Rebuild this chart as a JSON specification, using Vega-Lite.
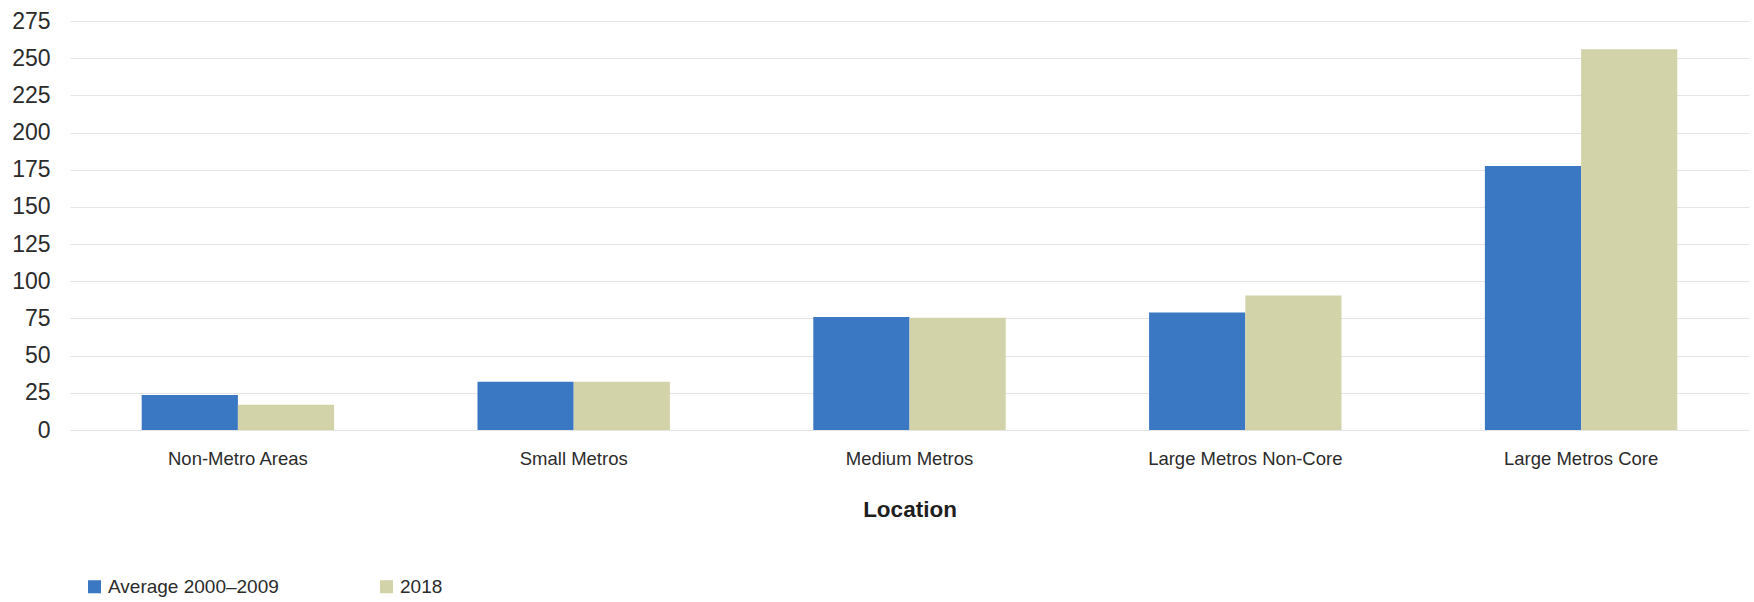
{
  "$schema": "https://vega.github.io/schema/vega-lite/v6.json",
  "autosize": {"type": "none"},
  "padding": {"left": 70, "top": 21, "right": 5, "bottom": 172},
  "width": 1679,
  "height": 409,
  "background": "white",
  "data": {
    "values": [
      {"location": "Non-Metro Areas", "period": "Average 2000–2009", "value": 23.5},
      {"location": "Non-Metro Areas", "period": "2018", "value": 17},
      {"location": "Small Metros", "period": "Average 2000–2009", "value": 32.5},
      {"location": "Small Metros", "period": "2018", "value": 32.5},
      {"location": "Medium Metros", "period": "Average 2000–2009", "value": 76},
      {"location": "Medium Metros", "period": "2018", "value": 75.5},
      {"location": "Large Metros Non-Core", "period": "Average 2000–2009", "value": 79},
      {"location": "Large Metros Non-Core", "period": "2018", "value": 90.5},
      {"location": "Large Metros Core", "period": "Average 2000–2009", "value": 177.5},
      {"location": "Large Metros Core", "period": "2018", "value": 256}
    ]
  },
  "mark": {"type": "bar"},
  "encoding": {
    "x": {
      "field": "location",
      "type": "nominal",
      "sort": null,
      "scale": {"paddingInner": 0.427, "paddingOuter": 0.2135},
      "axis": {
        "title": "Location",
        "labelAngle": 0,
        "labelFont": "Liberation Sans",
        "labelFontSize": 18.5,
        "labelColor": "#2b2b2b",
        "labelPadding": 19,
        "labelLimit": 400,
        "domain": false,
        "ticks": false,
        "titleFont": "Liberation Sans",
        "titleFontSize": 22.5,
        "titleFontWeight": "bold",
        "titleColor": "#1e1e1e",
        "titlePadding": 31
      }
    },
    "xOffset": {"field": "period", "type": "nominal", "sort": ["Average 2000–2009", "2018"]},
    "y": {
      "field": "value",
      "type": "quantitative",
      "scale": {"domain": [0, 275], "nice": false},
      "axis": {
        "title": null,
        "values": [0, 25, 50, 75, 100, 125, 150, 175, 200, 225, 250, 275],
        "labelFont": "Liberation Sans",
        "labelFontSize": 23,
        "labelColor": "#2b2b2b",
        "labelPadding": 20,
        "domain": false,
        "ticks": false,
        "grid": true,
        "gridColor": "#e4e4e4",
        "gridWidth": 1.2
      }
    },
    "color": {
      "field": "period",
      "type": "nominal",
      "sort": ["Average 2000–2009", "2018"],
      "scale": {"domain": ["Average 2000–2009", "2018"], "range": ["#3b78c3", "#d3d3a9"]},
      "legend": {
        "title": null,
        "orient": "none",
        "direction": "horizontal",
        "legendX": 15,
        "legendY": 556,
        "symbolType": "square",
        "symbolSize": 170,
        "symbolStrokeWidth": 0,
        "symbolOffset": 0,
        "labelOffset": 4,
        "labelFont": "Liberation Sans",
        "labelFontSize": 19,
        "labelColor": "#2b2b2b",
        "labelLimit": 300,
        "columnPadding": 98,
        "encode": {
          "symbols": {
            "enter": {
              "fill": [{"test": "datum.index === 1", "value": "#cbcbc4"}, {"value": "#3b6fc0"}]
            },
            "update": {
              "fill": [{"test": "datum.index === 1", "value": "#cbcbc4"}, {"value": "#3b6fc0"}],
              "opacity": {"value": 1}
            }
          }
        }
      }
    }
  },
  "config": {"view": {"stroke": null}}
}
